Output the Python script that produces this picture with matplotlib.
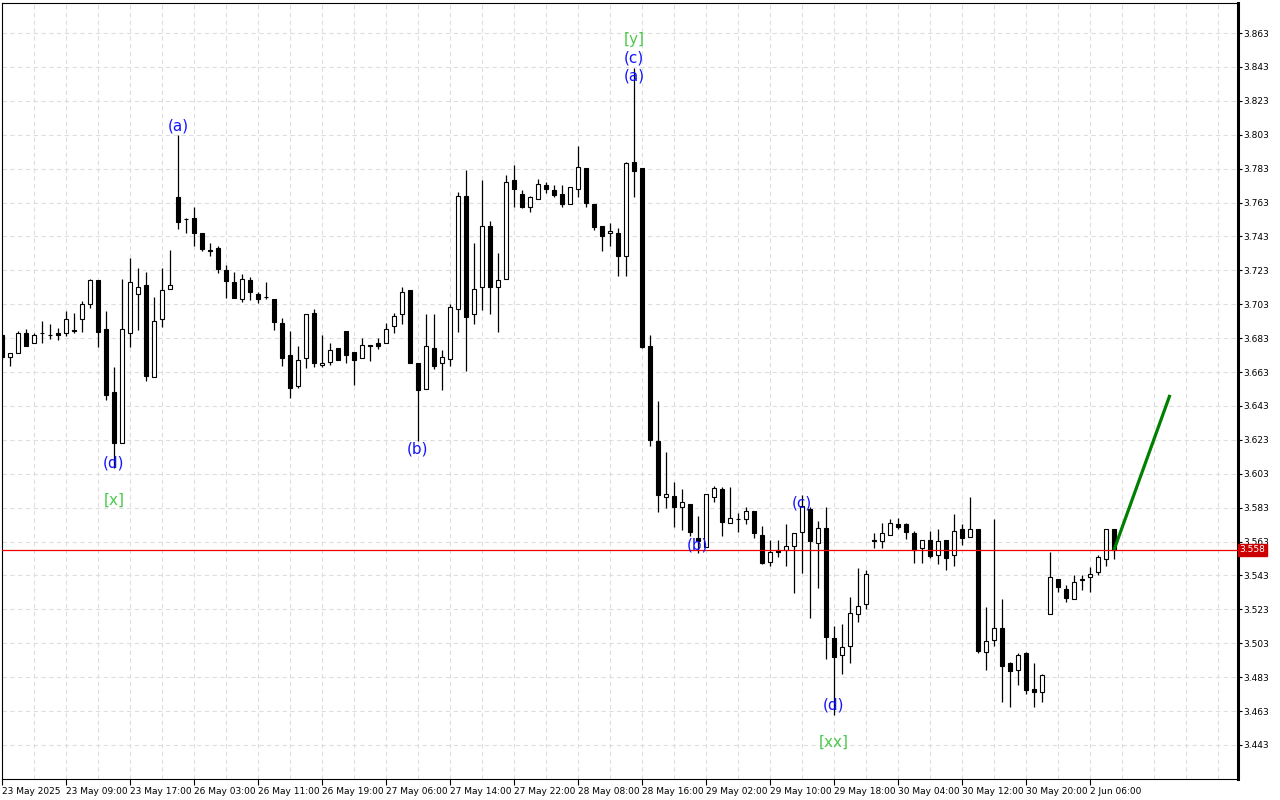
import numpy as np
import matplotlib
matplotlib.use("Agg")
import matplotlib.pyplot as plt
from matplotlib.patches import Rectangle
import matplotlib.transforms as mtransforms

## hourly candles
opens = [3.6848, 3.6718, 3.6740, 3.6860, 3.6800, 3.6858, 3.6848, 3.6863, 3.6860, 3.6878,
         3.6945, 3.7030, 3.7171, 3.6882, 3.6510, 3.6210, 3.6860, 3.7090, 3.7143, 3.6600,
         3.6944, 3.7118, 3.7660, 3.7535, 3.7537, 3.7448, 3.7348, 3.7362, 3.7230, 3.7161,
         3.7059, 3.7171, 3.7088, 3.7073, 3.7059, 3.6919, 3.6730, 3.6549, 3.6710, 3.6978,
         3.6671, 3.6689, 3.6770, 3.6872, 3.6746, 3.6711, 3.6789, 3.6801, 3.6799, 3.6899,
         3.6970, 3.7112, 3.6683, 3.6528, 3.6770, 3.6681, 3.6709, 3.6999, 3.7668, 3.6970,
         3.7130, 3.7489, 3.7130, 3.7177, 3.7763, 3.7680, 3.7605, 3.7649, 3.7733, 3.7702,
         3.7680, 3.7619, 3.7710, 3.7833, 3.7621, 3.7491, 3.7448, 3.7450, 3.7316, 3.7867,
         3.7832, 3.6783, 3.6223, 3.5894, 3.5898, 3.5835, 3.5851, 3.5649, 3.5596, 3.5894,
         3.5939, 3.5737, 3.5764, 3.5761, 3.5808, 3.5668, 3.5507, 3.5578, 3.5578, 3.5601,
         3.5688, 3.5820, 3.5619, 3.5708, 3.5059, 3.4958, 3.5011, 3.5201, 3.5259, 3.5637,
         3.5633, 3.5667, 3.5733, 3.5733, 3.5680, 3.5590, 3.5637, 3.5548, 3.5637, 3.5548,
         3.5702, 3.5658, 3.5704, 3.4976, 3.5047, 3.5120, 3.4913, 3.4870, 3.4972, 3.4760,
         3.4740, 3.5200, 3.5408, 3.5349, 3.5289, 3.5406, 3.5419, 3.5448, 3.5528, 3.5702]
highs = [3.6855, 3.6742, 3.6872, 3.6883, 3.6860, 3.6930, 3.6913, 3.6888, 3.6990, 3.6977,
         3.7049, 3.7180, 3.7175, 3.6990, 3.6660, 3.7177, 3.7304, 3.7245, 3.7220, 3.7072,
         3.7245, 3.7350, 3.8028, 3.7537, 3.7602, 3.7450, 3.7390, 3.7373, 3.7259, 3.7220,
         3.7208, 3.7189, 3.7102, 3.7161, 3.7060, 3.6947, 3.6872, 3.6783, 3.6975, 3.7003,
         3.6848, 3.6799, 3.6771, 3.6873, 3.6747, 3.6829, 3.6789, 3.6829, 3.6919, 3.6976,
         3.7131, 3.7113, 3.6684, 3.6970, 3.6970, 3.6759, 3.7031, 3.7690, 3.7822, 3.7389,
         3.7763, 3.7521, 3.7332, 3.7792, 3.7851, 3.7704, 3.7668, 3.7769, 3.7751, 3.7731,
         3.7731, 3.7719, 3.7963, 3.7834, 3.7622, 3.7492, 3.7509, 3.7480, 3.7867, 3.8425,
         3.7833, 3.6848, 3.6459, 3.6158, 3.5983, 3.5942, 3.5852, 3.5780, 3.5910, 3.5959,
         3.5953, 3.5953, 3.5796, 3.5832, 3.5809, 3.5721, 3.5639, 3.5639, 3.5733, 3.5680,
         3.5904, 3.5835, 3.5751, 3.5832, 3.5131, 3.5143, 3.5302, 3.5472, 3.5462, 3.5678,
         3.5737, 3.5760, 3.5767, 3.5739, 3.5692, 3.5637, 3.5692, 3.5702, 3.5638, 3.5792,
         3.5731, 3.5890, 3.5705, 3.5243, 3.5763, 3.5292, 3.4919, 3.4974, 3.4980, 3.4913,
         3.4848, 3.5568, 3.5409, 3.5371, 3.5430, 3.5430, 3.5478, 3.5550, 3.5702, 3.5703]
lows = [3.6705, 3.6665, 3.6740, 3.6785, 3.6800, 3.6800, 3.6825, 3.6818, 3.6843, 3.6860,
        3.6866, 3.7009, 3.6780, 3.6465, 3.6063, 3.6210, 3.6780, 3.6878, 3.6579, 3.6600,
        3.6897, 3.7118, 3.7472, 3.7448, 3.7375, 3.7346, 3.7314, 3.7216, 3.7068, 3.7068,
        3.7045, 3.7055, 3.7039, 3.7063, 3.6879, 3.6667, 3.6478, 3.6537, 3.6655, 3.6658,
        3.6658, 3.6669, 3.6699, 3.6681, 3.6555, 3.6711, 3.6697, 3.6767, 3.6799, 3.6860,
        3.6911, 3.6681, 3.6223, 3.6528, 3.6648, 3.6524, 3.6665, 3.6866, 3.6637, 3.6915,
        3.6996, 3.6974, 3.6866, 3.7177, 3.7605, 3.7597, 3.7576, 3.7649, 3.7688, 3.7664,
        3.7602, 3.7619, 3.7664, 3.7605, 3.7468, 3.7346, 3.7375, 3.7198, 3.7198, 3.7664,
        3.6770, 3.6195, 3.5806, 3.5829, 3.5717, 3.5698, 3.5660, 3.5560, 3.5596, 3.5861,
        3.5664, 3.5737, 3.5688, 3.5733, 3.5649, 3.5495, 3.5485, 3.5536, 3.5485, 3.5328,
        3.5447, 3.5177, 3.5357, 3.4937, 3.4606, 3.4846, 3.4914, 3.5157, 3.5230, 3.5590,
        3.5590, 3.5667, 3.5705, 3.5645, 3.5505, 3.5505, 3.5534, 3.5497, 3.5460, 3.5487,
        3.5607, 3.5658, 3.4970, 3.4870, 3.5011, 3.4685, 3.4655, 3.4781, 3.4728, 3.4652,
        3.4685, 3.5200, 3.5334, 3.5275, 3.5289, 3.5344, 3.5334, 3.5432, 3.5485, 3.5528]
closes = [3.6718, 3.6742, 3.6860, 3.6785, 3.6848, 3.6860, 3.6846, 3.6848, 3.6944, 3.6874,
          3.7030, 3.7171, 3.6868, 3.6494, 3.6210, 3.6882, 3.7160, 3.7130, 3.6608, 3.6930,
          3.7112, 3.7143, 3.7517, 3.7531, 3.7448, 3.7357, 3.7346, 3.7240, 3.7168, 3.7068,
          3.7179, 3.7100, 3.7059, 3.7071, 3.6927, 3.6714, 3.6537, 3.6700, 3.6970, 3.6681,
          3.6683, 3.6758, 3.6699, 3.6728, 3.6699, 3.6787, 3.6785, 3.6785, 3.6882, 3.6958,
          3.7100, 3.6685, 3.6522, 3.6782, 3.6667, 3.6717, 3.7012, 3.7668, 3.6956, 3.7118,
          3.7489, 3.7130, 3.7171, 3.7749, 3.7708, 3.7605, 3.7660, 3.7737, 3.7708, 3.7676,
          3.7619, 3.7719, 3.7839, 3.7629, 3.7487, 3.7434, 3.7462, 3.7316, 3.7861, 3.7818,
          3.6780, 3.6227, 3.5906, 3.5910, 3.5835, 3.5863, 3.5687, 3.5633, 3.5910, 3.5946,
          3.5747, 3.5767, 3.5762, 3.5808, 3.5678, 3.5505, 3.5566, 3.5566, 3.5601, 3.5680,
          3.5841, 3.5635, 3.5708, 3.5068, 3.4946, 3.5009, 3.5206, 3.5249, 3.5436, 3.5633,
          3.5678, 3.5737, 3.5717, 3.5688, 3.5578, 3.5637, 3.5546, 3.5631, 3.5534, 3.5690,
          3.5649, 3.5702, 3.4986, 3.5041, 3.5118, 3.4897, 3.4868, 3.4958, 3.4755, 3.4740,
          3.4840, 3.5418, 3.5359, 3.5298, 3.5389, 3.5404, 3.5437, 3.5537, 3.5702, 3.5580]

time_labels = ["23 May 2025", "23 May 09:00", "23 May 17:00", "26 May 03:00", "26 May 11:00",
               "26 May 19:00", "27 May 06:00", "27 May 14:00", "27 May 22:00", "28 May 08:00",
               "28 May 16:00", "29 May 02:00", "29 May 10:00", "29 May 18:00", "30 May 04:00",
               "30 May 12:00", "30 May 20:00", "2 Jun 06:00"]
price_ticks = [3.443, 3.463, 3.483, 3.503, 3.523, 3.543, 3.563, 3.583, 3.603, 3.623, 3.643,
               3.663, 3.683, 3.703, 3.723, 3.743, 3.763, 3.783, 3.803, 3.823, 3.843, 3.863]
last_price = 3.558

# wave marks: bar index, text, price level
wave_bar = [22, 14, 52, 79, 79, 87, 100, 104]
wave_text = ["(a)", "(d)", "(b)", "(a)", "(c)", "(b)", "(c)", "(d)"]
wave_price = [3.8081, 3.6093, 3.6176, 3.8376, 3.8482, 3.5609, 3.5857, 3.4665]
major_bar = [14, 79, 104]
major_text = ["[x]", "[y]", "[xx]"]
major_price = [3.5875, 3.8589, 3.4447]

# projection line
proj_bar = [139, 146]
proj_price = [3.558, 3.6495]

fig = plt.figure(figsize=(12.8, 8), dpi=100)
ax = fig.add_axes([2 / 1280, 21 / 800, 1235.5 / 1280, 776 / 800])

n = len(opens)
x = np.arange(n)
ax.set_xlim(0, 154.44)
ax.set_ylim(3.4229, 3.8807)

## grid
for p in price_ticks:
    ax.axhline(p, color='#dedede', lw=0.8, ls=(0, (4, 3)), zorder=0)
for b in range(4, 155, 4):
    ax.axvline(b, color='#dedede', lw=0.8, ls=(0, (4, 3)), zorder=0)

## candles
w = 0.5
ax.vlines(x, lows, highs, color='black', lw=0.9, zorder=2)
for i in range(n):
    o, c = opens[i], closes[i]
    fc = 'white' if c >= o else 'black'
    ax.add_patch(Rectangle((i - w / 2, min(o, c)), w, abs(c - o), facecolor=fc,
                           edgecolor='black', lw=0.8, zorder=3))

## last price line
ax.axhline(last_price, color='#ee0000', lw=0.9, zorder=4)
trans = mtransforms.blended_transform_factory(ax.transAxes, ax.transData)
ax.text(1.0018, last_price, '%.3f' % last_price, transform=trans, color='white', fontsize=6.5,
        ha='left', va='center', zorder=10, clip_on=False,
        bbox=dict(boxstyle='square,pad=0.2', facecolor='#cc0000', edgecolor='#cc0000'))

## projection
ax.plot(proj_bar, proj_price, color='#008000', lw=2.3, zorder=5, solid_capstyle='butt')

## wave labels
for b, t, p in zip(wave_bar, wave_text, wave_price):
    ax.text(b, p, t, color='#1414ff', fontsize=11, ha='center', va='center', zorder=6)
for b, t, p in zip(major_bar, major_text, major_price):
    ax.text(b, p, t, color='#4cc94c', fontsize=11, ha='center', va='center', zorder=6)

## axes
ax.yaxis.tick_right()
ax.set_yticks(price_ticks)
ax.set_yticklabels(['%.3f' % p for p in price_ticks])
ax.set_xticks(list(range(0, n, 8)))
ax.set_xticklabels(time_labels, ha='left')
ax.tick_params(axis='y', length=3, width=0.8, pad=1, labelsize=6.5)
ax.tick_params(axis='x', length=4, width=0.8, pad=1.5, labelsize=6.5)
for s in ['left', 'top', 'bottom']:
    ax.spines[s].set_linewidth(0.8)
ax.spines['right'].set_linewidth(2.2)

fig.savefig('out.png', dpi=100)
